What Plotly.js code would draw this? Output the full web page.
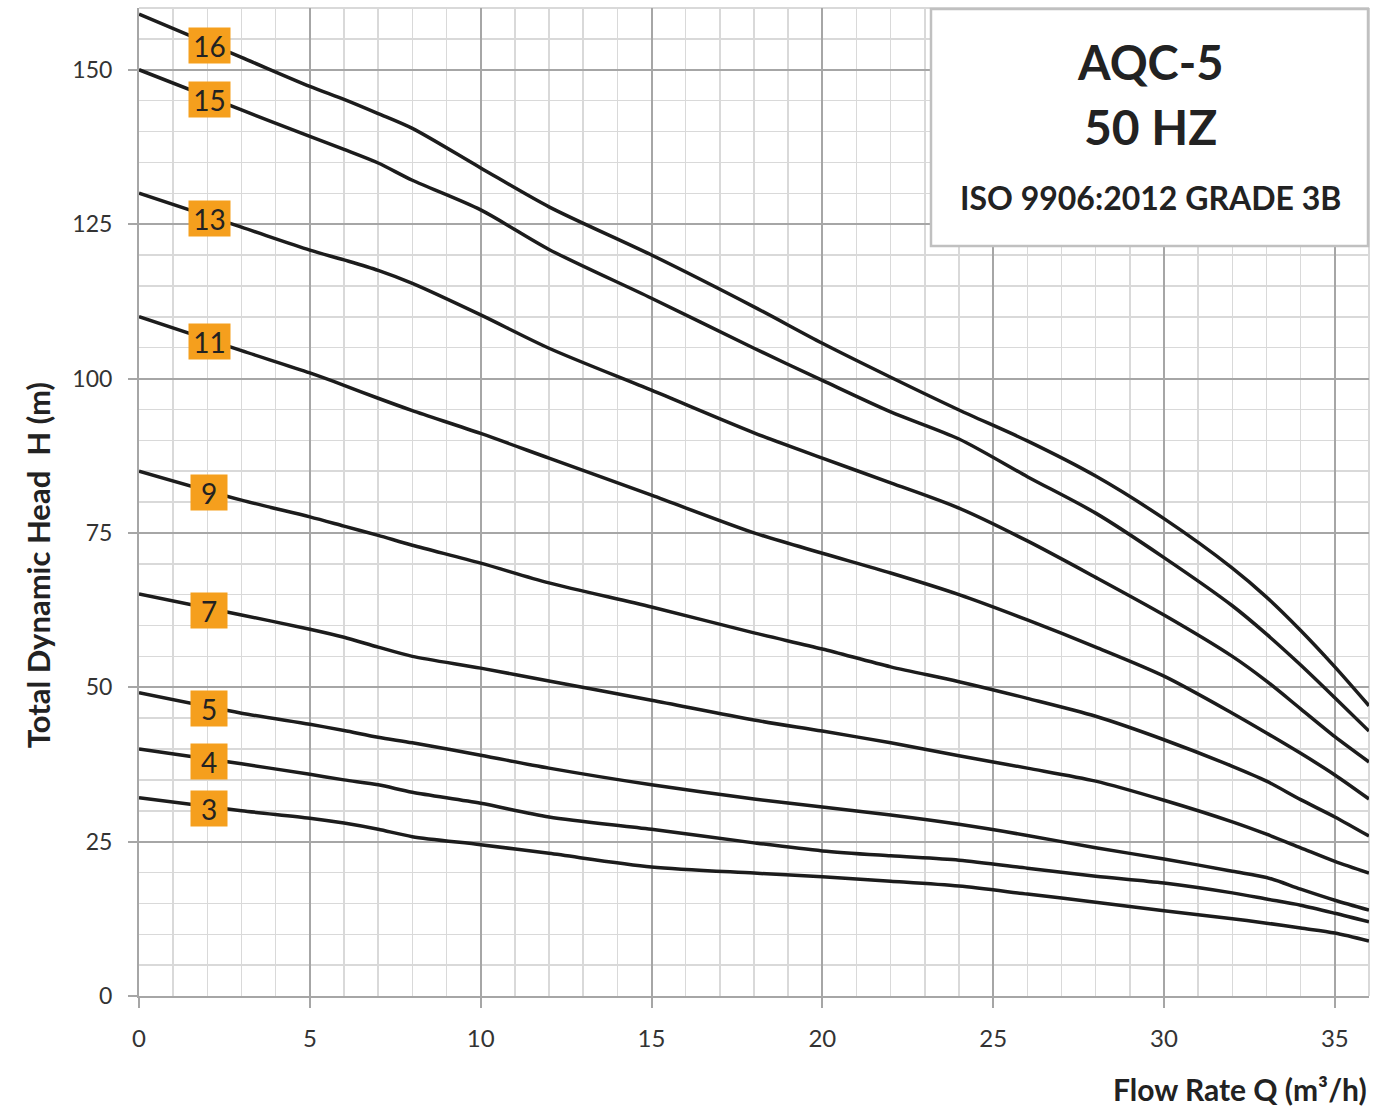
<!DOCTYPE html>
<html>
<head>
<meta charset="utf-8">
<script src="https://cdn.plot.ly/plotly-3.0.1.min.js"></script>
<style>html,body{margin:0;padding:0;background:#fff;}#chart{width:1387px;height:1107px;}</style>
</head>
<body>
<div id="chart"></div>
<script>
// Flow rate Q (m3/h) sample points
const flow = [0,3,5,6,7,8,10,12,15,18,20,22,24,26,28,30,32,33,34,35,36];
// Head H (m) for each stage count
const h16 = [159.0,152.0,147.3,145.2,142.9,140.5,134.1,127.8,120.0,111.6,105.7,100.2,94.9,89.9,84.2,77.3,69.3,64.6,59.2,53.3,47.0];
const h15 = [150.0,143.5,139.2,137.1,134.9,132.1,127.3,120.9,113.0,104.9,99.7,94.6,90.2,84.1,78.2,71.0,63.2,58.6,53.6,48.3,42.9];
const h13 = [130.0,124.5,120.8,119.2,117.5,115.4,110.3,104.9,98.1,91.2,87.1,83.1,79.0,73.7,67.8,61.7,55.0,51.0,46.5,42.0,37.9];
const h11 = [110.0,104.5,100.9,98.9,96.8,94.8,91.1,87.1,81.1,75.0,71.7,68.5,65.0,60.9,56.5,51.8,45.8,42.6,39.3,35.8,31.9];
const h9  = [85.0,80.3,77.6,76.1,74.6,73.0,70.1,66.9,63.0,58.8,56.2,53.3,50.9,48.2,45.3,41.5,37.2,34.8,31.8,29.0,25.9];
const h7  = [65.1,61.7,59.4,58.1,56.5,55.0,53.1,51.0,47.9,44.7,42.9,41.0,38.9,36.9,34.8,31.7,28.2,26.2,24.0,21.8,19.9];
const h5  = [49.1,45.8,44.0,43.0,41.9,41.0,39.0,36.9,34.2,31.9,30.6,29.3,27.8,26.0,24.0,22.2,20.2,19.2,17.3,15.5,13.9];
const h4  = [40.0,37.6,35.9,35.0,34.2,33.0,31.2,29.0,27.0,24.8,23.5,22.7,22.0,20.7,19.4,18.3,16.7,15.7,14.7,13.4,12.0];
const h3  = [32.1,30.0,28.8,28.0,27.0,25.8,24.5,23.1,20.9,19.9,19.3,18.6,17.8,16.5,15.2,13.8,12.5,11.8,11.0,10.2,8.9];

const stages = ["16","15","13","11","9","7","5","4","3"];
const heads = [h16,h15,h13,h11,h9,h7,h5,h4,h3];
const labelQ = 2.05;

const xTicks = [0,5,10,15,20,25,30,35];
const yTicks = [0,25,50,75,100,125,150];

const titleLines = ["AQC-5","50 HZ","ISO 9906:2012 GRADE 3B"];
const xTitle = "Flow Rate Q (m³/h)";
const yTitle = "Total Dynamic Head  H (m)";

function interp(xs, ys, x) {
  for (let i = 0; i < xs.length - 1; i++) {
    if (x >= xs[i] && x <= xs[i+1]) {
      const t = (x - xs[i]) / (xs[i+1] - xs[i]);
      return ys[i] + t * (ys[i+1] - ys[i]);
    }
  }
  return ys[ys.length-1];
}

const traces = heads.map((h, i) => ({
  x: flow, y: h, type: 'scatter', mode: 'lines', name: stages[i],
  line: {color: '#1c1c1c', width: 3.5, shape: 'spline', smoothing: 0.8},
  hoverinfo: 'skip', showlegend: false
}));

const FONT = 'Lato, "Open Sans", sans-serif';
const annotations = [];
heads.forEach((h, i) => {
  annotations.push({
    x: labelQ, y: interp(flow, h, labelQ), xref: 'x', yref: 'y',
    text: stages[i], showarrow: false, yshift: -2,
    font: {family: FONT, size: 28, color: '#222'},
    bgcolor: '#f59f1d', width: stages[i].length > 1 ? 41 : 36, height: 35,
    borderpad: 0, xanchor: 'center', yanchor: 'middle', align: 'center'
  });
});
// title box texts
const tY = [0.9453, 0.8796, 0.8087];
const tS = [47, 48, 32];
titleLines.forEach((t, i) => {
  annotations.push({
    x: 0.822, y: tY[i], xref: 'paper', yref: 'paper', text: '<b>' + t + '</b>',
    showarrow: false, xanchor: 'center', yanchor: 'middle',
    font: {family: FONT, size: tS[i], color: '#222'}
  });
});
// x-axis title, right aligned
annotations.push({
  x: 1, y: 0, xref: 'paper', yref: 'paper', yshift: -93, xanchor: 'right', yanchor: 'middle',
  text: '<b>' + xTitle + '</b>', showarrow: false,
  font: {family: FONT, size: 30, color: '#222'}
});
// y-axis title
annotations.push({
  x: 0, y: 0.436, xref: 'paper', yref: 'paper', xshift: -101, xanchor: 'center', yanchor: 'middle',
  text: '<b>' + yTitle + '</b>', showarrow: false, textangle: -90,
  font: {family: FONT, size: 31, color: '#222'}
});

const layout = {
  width: 1387, height: 1107,
  margin: {l: 139, r: 18, t: 8, b: 111},
  paper_bgcolor: '#fff', plot_bgcolor: '#fff',
  showlegend: false,
  xaxis: {
    range: [0, 36], tickvals: xTicks, ticktext: xTicks.map(String),
    showgrid: true, gridcolor: '#a6a6a6', gridwidth: 2,
    minor: {dtick: 1, tick0: 0, showgrid: true, gridcolor: '#d9d9d9', gridwidth: 1.5, ticks: ''},
    showline: true, linecolor: '#a6a6a6', linewidth: 2,
    ticks: 'outside', ticklen: 10, tickcolor: '#a6a6a6', tickwidth: 2,
    ticklabelstandoff: 10,
    zeroline: false, tickfont: {family: FONT, size: 24, color: '#333'}
  },
  yaxis: {
    range: [0, 160], tickvals: yTicks, ticktext: yTicks.map(String),
    showgrid: true, gridcolor: '#a6a6a6', gridwidth: 2,
    minor: {dtick: 5, tick0: 0, showgrid: true, gridcolor: '#d9d9d9', gridwidth: 1.5, ticks: ''},
    showline: true, linecolor: '#a6a6a6', linewidth: 2,
    ticks: 'outside', ticklen: 9, tickcolor: '#a6a6a6', tickwidth: 2,
    ticklabelstandoff: 11,
    zeroline: false, tickfont: {family: FONT, size: 23, color: '#333'}
  },
  shapes: [
    {type: 'line', xref: 'paper', yref: 'paper', x0: 0, x1: 1, y0: 1, y1: 1, line: {color: '#d9d9d9', width: 2}, layer: 'below'},
    {type: 'line', xref: 'paper', yref: 'paper', x0: 1, x1: 1, y0: 0, y1: 1, line: {color: '#d9d9d9', width: 2}, layer: 'below'},
    {type: 'rect', xref: 'paper', yref: 'paper', x0: 0.6439, x1: 0.9992, y0: 0.759, y1: 0.999,
     fillcolor: '#ffffff', line: {color: '#c0c0c0', width: 2.5}, layer: 'above'}
  ],
  annotations: annotations
};

Plotly.newPlot('chart', traces, layout, {displayModeBar: false, staticPlot: true});
</script>
</body>
</html>
